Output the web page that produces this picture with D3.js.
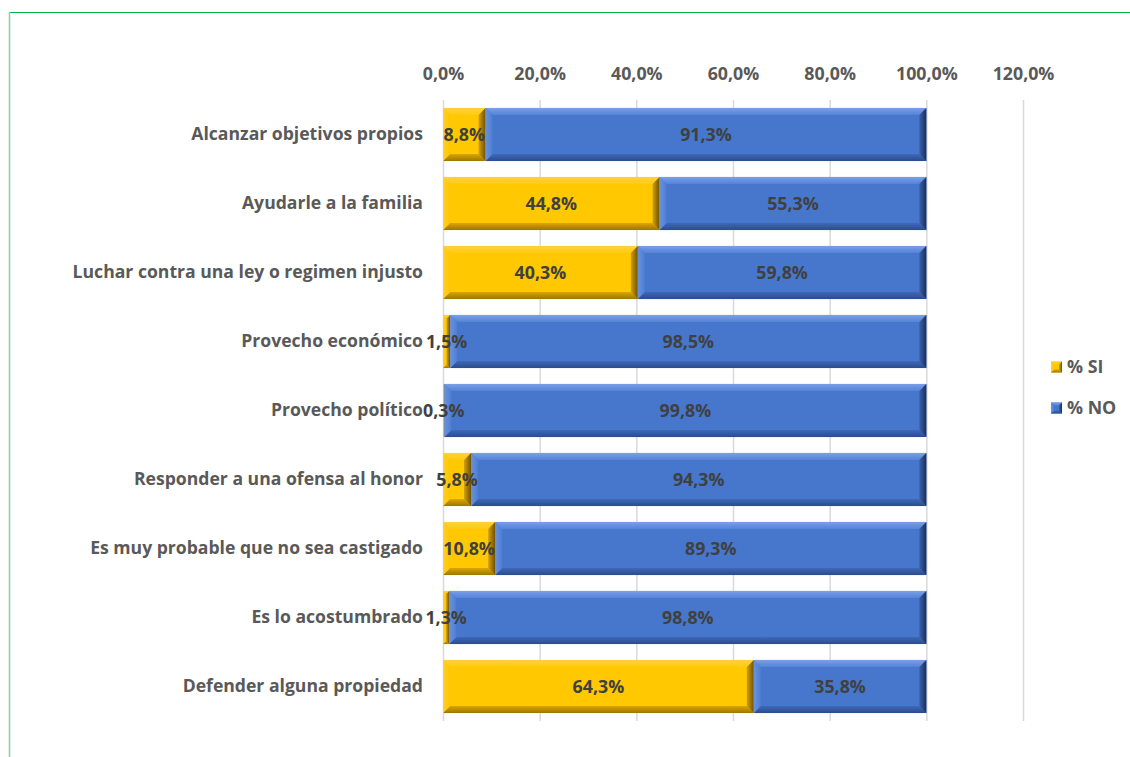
<!DOCTYPE html>
<html><head><meta charset="utf-8">
<script src="https://cdn.jsdelivr.net/npm/d3@7"></script>
<style>body{margin:0;background:#fff;}svg{display:block;}</style>
</head><body>
<svg id="c" width="1130" height="757"></svg>
<script>
const categories = ["Alcanzar objetivos propios","Ayudarle a la familia","Luchar contra una ley o regimen injusto","Provecho económico","Provecho político","Responder a una ofensa al honor","Es muy probable que no sea castigado","Es lo acostumbrado","Defender alguna propiedad"];
const siValues = [8.8,44.8,40.3,1.5,0.3,5.8,10.8,1.3,64.3];
const noValues = [91.3,55.3,59.8,98.5,99.8,94.3,89.3,98.8,35.8];
const tickValues = [0,20,40,60,80,100,120];
const seriesNames = ["% SI","% NO"];

const svg = d3.select("#c");
const font = "'Open Sans', sans-serif";
const fsCat = 17.6, fsNum = 17.8;
const txt = "#595959";

const defs = svg.append("defs");
function grad(id, c1, c2, x1,y1,x2,y2){
  const g = defs.append("linearGradient").attr("id",id).attr("x1",x1).attr("y1",y1).attr("x2",x2).attr("y2",y2);
  g.append("stop").attr("offset","0%").attr("stop-color",c1);
  g.append("stop").attr("offset","100%").attr("stop-color",c2);
}
const pal = [
  {face:"#FFC800", top:["#FFD23A","#FFCB10"], left:["#FFD02A","#FFC500"], bottom:["#D9A500","#9C7700"], right:["#D4A000","#6E5200"]},
  {face:"#4677CC", top:["#7AA0E8","#5583D6"], left:["#6A92DE","#4E7ED2"], bottom:["#3E68B8","#2B4C8C"], right:["#3A62AE","#1A2E58"]}
];
pal.forEach((p,i)=>{
  grad("t"+i,p.top[0],p.top[1],"0","0","0","1");
  grad("b"+i,p.bottom[0],p.bottom[1],"0","0","0","1");
  grad("l"+i,p.left[0],p.left[1],"0","0","1","0");
  grad("r"+i,p.right[0],p.right[1],"0","0","1","0");
});

// frame
svg.append("line").attr("x1",9).attr("x2",1130).attr("y1",12.5).attr("y2",12.5).attr("stroke","#00b050").attr("stroke-width",1.2);
svg.append("line").attr("x1",9.5).attr("x2",9.5).attr("y1",12).attr("y2",757).attr("stroke","#7fd4a0").attr("stroke-width",1.5);

const x = d3.scaleLinear().domain([0,120]).range([443,1023]);
const y = d3.scaleBand().domain(categories).range([100,721]).paddingInner(0.23).paddingOuter(0.115);

const fmt = v => d3.format(".1f")(v).replace(".",",")+"%";

// grid
svg.append("g").selectAll("line").data(tickValues).join("line")
  .attr("x1",d=>x(d)+0.5).attr("x2",d=>x(d)+0.5).attr("y1",100).attr("y2",721)
  .attr("stroke","#d9d9d9").attr("stroke-width",1.5);

// top axis
const ax = svg.append("g").attr("transform","translate(0,80)")
  .call(d3.axisTop(x).tickValues(tickValues).tickSize(0).tickPadding(0).tickFormat(fmt));
ax.select(".domain").remove();
ax.selectAll("text").attr("font-family",font).attr("font-weight","bold").attr("font-size",fsNum).attr("fill",txt);

// category axis
const ay = svg.append("g").attr("transform","translate(423,0)")
  .call(d3.axisLeft(y).tickSize(0).tickPadding(0));
ay.select(".domain").remove();
ay.selectAll("text").attr("font-family",font).attr("font-weight","bold").attr("font-size",fsCat).attr("fill",txt);

function bevelBar(g, x0, x1, y0, h, i, bmax){
  const p = pal[i];
  const w = x1-x0; if (w<=0) return;
  const b = Math.min(bmax, w/2, h/2);
  g.append("rect").attr("x",x0).attr("y",y0).attr("width",w).attr("height",h).attr("fill",p.face);
  const y1 = y0+h;
  const poly = (pts,fill)=>g.append("polygon").attr("points",pts.map(q=>q.join(",")).join(" ")).attr("fill",fill);
  poly([[x0,y0],[x1,y0],[x1-b,y0+b],[x0+b,y0+b]],`url(#t${i})`);
  poly([[x0,y1],[x1,y1],[x1-b,y1-b],[x0+b,y1-b]],`url(#b${i})`);
  poly([[x0,y0],[x0+b,y0+b],[x0+b,y1-b],[x0,y1]],`url(#l${i})`);
  poly([[x1,y0],[x1-b,y0+b],[x1-b,y1-b],[x1,y1]],`url(#r${i})`);
}

const bars = svg.append("g");
categories.forEach((c,i)=>{
  const y0 = y(c), h = y.bandwidth();
  const s = siValues[i], n = noValues[i];
  const g = bars.append("g");
  bevelBar(g, x(0), x(s), y0, h, 0, 7);
  bevelBar(g, x(s), x(Math.min(s+n,100)), y0, h, 1, 7);
});

const labels = svg.append("g").attr("font-family",font).attr("font-weight","bold").attr("font-size",fsNum).attr("fill","#404040").attr("text-anchor","middle");
categories.forEach((c,i)=>{
  const yc = y(c)+y.bandwidth()/2;
  const s = siValues[i], n = noValues[i];
  labels.append("text").attr("x",(x(0)+x(s))/2).attr("y",yc).attr("dy","0.35em").text(fmt(s));
  labels.append("text").attr("x",(x(s)+x(Math.min(s+n,100)))/2).attr("y",yc).attr("dy","0.35em").text(fmt(n));
});

// legend
const lg = svg.append("g");
seriesNames.forEach((nm,i)=>{
  const ly = 367 + i*41;
  const g = lg.append("g");
  bevelBar(g, 1051, 1062, ly-5.5, 11, i, 3);
  g.append("text").attr("x",1067).attr("y",ly).attr("dy","0.35em").attr("font-family",font).attr("font-weight","bold").attr("font-size",fsNum).attr("fill",txt).text(nm);
});
</script>
</body></html>
